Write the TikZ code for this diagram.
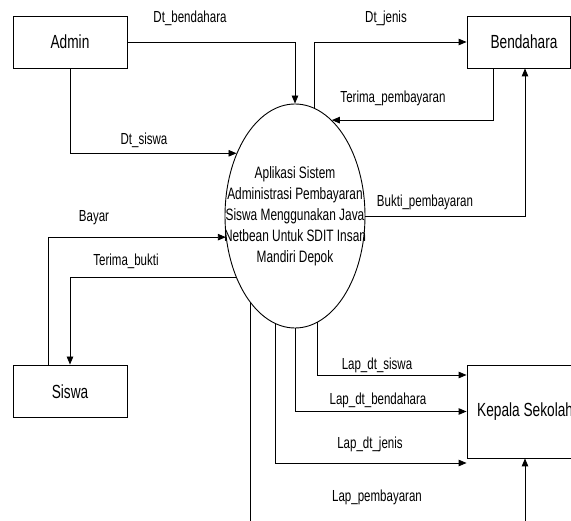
\documentclass[tikz,border=0pt]{standalone}
\usepackage{fontspec}
\setmainfont{Liberation Sans}[FakeStretch=0.72]
\usetikzlibrary{arrows.meta,shapes.geometric}
\tikzset{
  entity/.style={draw=black,line width=0.9pt,rectangle,inner sep=0pt},
  boxtext/.style={inner sep=0pt,font=\fontsize{19}{22}\selectfont},
  procshape/.style={draw=black,line width=0.9pt,ellipse,inner sep=0pt,minimum width=140pt,minimum height=224pt},
  proctext/.style={inner sep=0pt,align=center,font=\fontsize{16.5}{21}\selectfont},
  flowlabel/.style={inner sep=0pt,font=\fontsize{16}{19}\selectfont},
  flow/.style={draw=black,line width=0.9pt,-{Triangle[length=8pt,width=6.5pt]}},
  plainflow/.style={draw=black,line width=0.9pt}
}
\begin{document}
\begin{tikzpicture}[x=1pt,y=-1pt]
\useasboundingbox (0,0) rectangle (571,521);
\clip (0,0) rectangle (571,521);
\fill[white] (0,0) rectangle (571,521);
% entities
\node[entity,minimum width=114pt,minimum height=52pt] (admin) at (70,42) {};
\node[boxtext] (admint) at (70,42) {Admin};
\node[entity,minimum width=114pt,minimum height=52pt] (siswa) at (70,391) {};
\node[boxtext] (siswat) at (70,392) {Siswa};
\node[entity,minimum width=103pt,minimum height=52pt] (bend) at (518.5,42) {};
\node[boxtext] (bendt) at (524,42) {Bendahara};
\node[entity,minimum width=120pt,minimum height=93pt] (kepala) at (527,411.5) {};
\node[boxtext,anchor=west] (kepalat) at (477,412) {Kepala Sekolah};
% process
\node[procshape] (c) at (295,216) {};
\node[proctext] (ct) at (295,216.5) {Aplikasi Sistem\\Administrasi Pembayaran\\Siswa Menggunakan Java\\Netbean Untuk SDIT Insan\\Mandiri Depok};
\coordinate (bottomedge) at (0,530);
\coordinate (kpstart) at (525,530);
% flows
\draw[flow] (admin.east) -| (c.north);
\draw[flow] (admin.south) |- (c.133.9);
\draw[flow] (c.80.6) |- (bend.west);
\draw[flow] ([xshift=-25.5pt]bend.south) |- (c.69.4);
\draw[flow] (c.east) -| ([xshift=6.5pt]bend.south);
\draw[flow] ([xshift=-22pt]siswa.north) |- (c.197.8);
\draw[flow] (c.226.8) -| (siswa.north);
\draw[flow] (c.282.3) |- ([yshift=36.5pt]kepala.west);
\draw[flow] (c.south) |- (kepala.west);
\draw[flow] (c.260) |- ([yshift=-51.5pt]kepala.west);
\draw[plainflow] (c.243.2) -- (c.243.2 |- bottomedge);
\draw[flow] (kpstart) -- (kpstart |- kepala.south);
% labels
\node[flowlabel] (l1) at (190,18) {Dt\_bendahara};
\node[flowlabel] (l2) at (144,140) {Dt\_siswa};
\node[flowlabel] (l3) at (386,18) {Dt\_jenis};
\node[flowlabel] (l4) at (393,98) {Terima\_pembayaran};
\node[flowlabel] (l5) at (425,202) {Bukti\_pembayaran};
\node[flowlabel] (l6) at (94,218) {Bayar};
\node[flowlabel] (l7) at (126,261) {Terima\_bukti};
\node[flowlabel] (l8) at (377,365) {Lap\_dt\_siswa};
\node[flowlabel] (l9) at (378,400) {Lap\_dt\_bendahara};
\node[flowlabel] (l10) at (370,444) {Lap\_dt\_jenis};
\node[flowlabel] (l11) at (377,497) {Lap\_pembayaran};
\end{tikzpicture}
\end{document}
